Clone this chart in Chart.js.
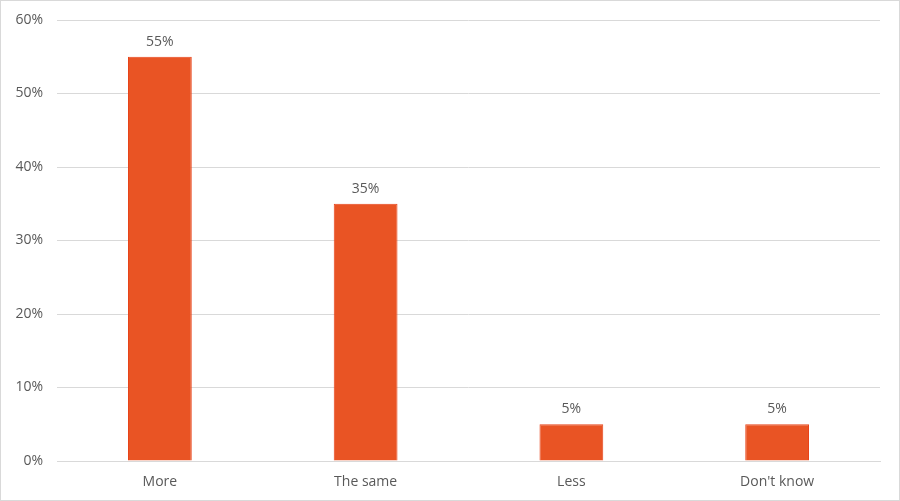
<!DOCTYPE html>
<html><head><meta charset="utf-8">
<script src="https://cdn.jsdelivr.net/npm/chart.js@4"></script>
<style>
html,body{margin:0;padding:0;background:#fff;}
#wrap{width:900px;height:501px;box-sizing:border-box;border:1px solid #d9d9d9;position:relative;}
canvas{display:block;}
</style></head>
<body><div id="wrap"><canvas id="c" width="898" height="499"></canvas></div>
<script>
const categories = ["More", "The same", "Less", "Don't know"];
const values = [55, 35, 5, 5];
const yTicks = [0, 10, 20, 30, 40, 50, 60];

const FONT = "'Open Sans', Lato, sans-serif";

const labelPlugin = {
  id: 'barLabels',
  afterDatasetsDraw(chart) {
    const ctx = chart.ctx;
    const meta = chart.getDatasetMeta(0);
    ctx.save();
    ctx.font = "14px " + FONT;
    ctx.fillStyle = '#595959';
    ctx.textAlign = 'center';
    ctx.textBaseline = 'bottom';
    meta.data.forEach((bar, i) => {
      ctx.fillText(values[i] + '%', bar.x, bar.y - 8);
    });
    ctx.restore();
  }
};

const fixArea = {
  id: 'fixArea',
  afterLayout(chart) {
    const a = chart.chartArea;
    // report for debugging in title
    document.title = a.top + ',' + a.bottom + ',' + a.left + ',' + a.right;
  }
};

new Chart(document.getElementById('c'), {
  type: 'bar',
  data: {
    labels: categories,
    datasets: [{
      data: values,
      backgroundColor: '#E95424',
      borderColor: '#E8441A',
      borderWidth: 1,
      barPercentage: 0.31,
      categoryPercentage: 1.0
    }]
  },
  options: {
    responsive: false,
    animation: false,
    devicePixelRatio: 1,
    layout: { padding: { top: 19, right: 19, left: 0, bottom: 0 } },
    plugins: { legend: { display: false }, tooltip: { enabled: false } },
    scales: {
      x: {
        grid: { display: false },
        border: { color: '#d9d9d9', width: 1 },
        ticks: { color: '#595959', font: { family: FONT, size: 14 }, padding: 5 },
        afterFit(scale) { scale.height = 39; }
      },
      y: {
        min: 0, max: 60,
        afterBuildTicks(scale) { scale.ticks = yTicks.map(v => ({ value: v })); },
        grid: { color: '#d9d9d9', drawTicks: false },
        border: { display: false },
        ticks: {
          color: '#595959', font: { family: FONT, size: 14 }, padding: 14,
          callback: v => v + '%'
        },
        afterFit(scale) { scale.width = 56; scale.paddingTop = 0; scale.paddingBottom = 0; }
      }
    }
  },
  plugins: [labelPlugin, fixArea]
});
</script></body></html>
